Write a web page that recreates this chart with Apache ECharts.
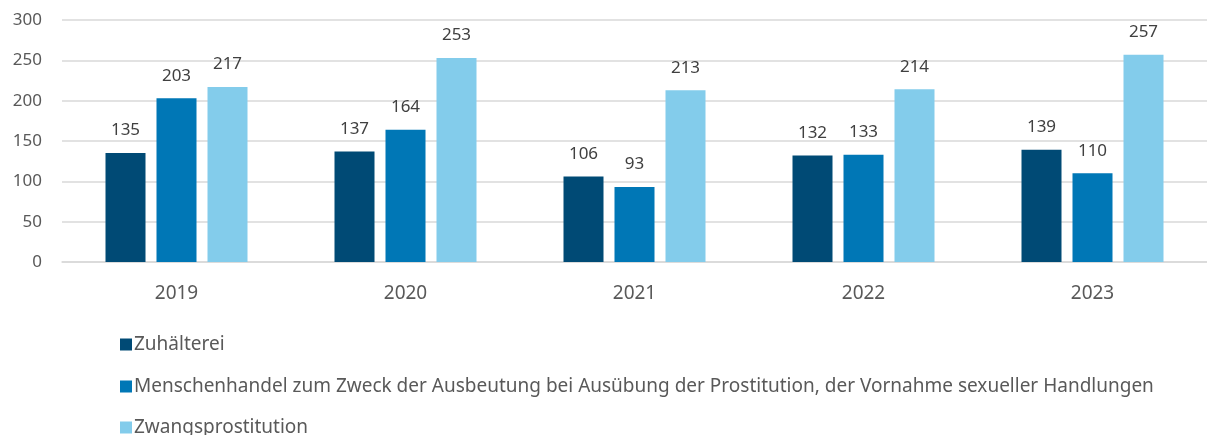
<!DOCTYPE html>
<html>
<head>
<meta charset="utf-8">
<script src="https://cdn.jsdelivr.net/npm/echarts@6/dist/echarts.min.js"></script>
<style>
  html, body { margin: 0; padding: 0; background: #fff; }
  #chart { width: 1207px; height: 435px; }
</style>
</head>
<body>
<div id="chart"></div>
<script>
const years = ['2019', '2020', '2021', '2022', '2023'];
const zuhaelterei = [135, 137, 106, 132, 139];
const menschenhandel = [203, 164, 93, 133, 110];
const zwangsprostitution = [217, 253, 213, 214, 257];
const yTicks = [0, 50, 100, 150, 200, 250, 300];

const names = [
  'Zuhälterei',
  'Menschenhandel zum Zweck der Ausbeutung bei Ausübung der Prostitution, der Vornahme sexueller Handlungen',
  'Zwangsprostitution'
];
const colors = ['#004a75', '#0077b6', '#83cceb'];
const font = '"Noto Sans", sans-serif';

function makeSeries(name, data, color) {
  return {
    name: name,
    type: 'bar',
    data: data,
    barWidth: 40,
    barGap: '27.5%',
    itemStyle: { color: color },
    label: {
      show: true,
      position: 'top',
      distance: 14,
      color: '#404040',
      fontSize: 17,
      fontFamily: font
    }
  };
}

// one legend per row so they stack like the original
function makeLegend(name, top) {
  return {
    orient: 'vertical',
    left: 115,
    top: top,
    itemWidth: 12,
    itemHeight: 12,
    icon: 'rect',
    textStyle: { color: '#595959', fontSize: 19, fontFamily: font, padding: [0, 0, 0, -3] },
    data: [name]
  };
}

const myChart = echarts.init(document.getElementById('chart'));
const option = {
  animation: false,
  color: colors,
  textStyle: { fontFamily: font },
  grid: { left: 62, right: -5, top: 20, bottom: 173 },
  legend: [
    makeLegend(names[0], 330),
    makeLegend(names[1], 372),
    makeLegend(names[2], 413)
  ],
  xAxis: {
    type: 'category',
    data: years,
    axisLine: { lineStyle: { color: '#d9d9d9', width: 1.5 } },
    axisTick: { show: false },
    axisLabel: { color: '#595959', fontSize: 19, margin: 22, fontFamily: font }
  },
  yAxis: {
    type: 'value',
    min: yTicks[0],
    max: yTicks[yTicks.length - 1],
    interval: 50,
    axisLine: { show: false },
    axisTick: { show: false },
    axisLabel: { color: '#595959', fontSize: 17, margin: 20, fontFamily: font },
    splitLine: { lineStyle: { color: '#d9d9d9', width: 1.5 } }
  },
  series: [
    makeSeries(names[0], zuhaelterei, colors[0]),
    makeSeries(names[1], menschenhandel, colors[1]),
    makeSeries(names[2], zwangsprostitution, colors[2])
  ]
};
myChart.setOption(option);
</script>
</body>
</html>
